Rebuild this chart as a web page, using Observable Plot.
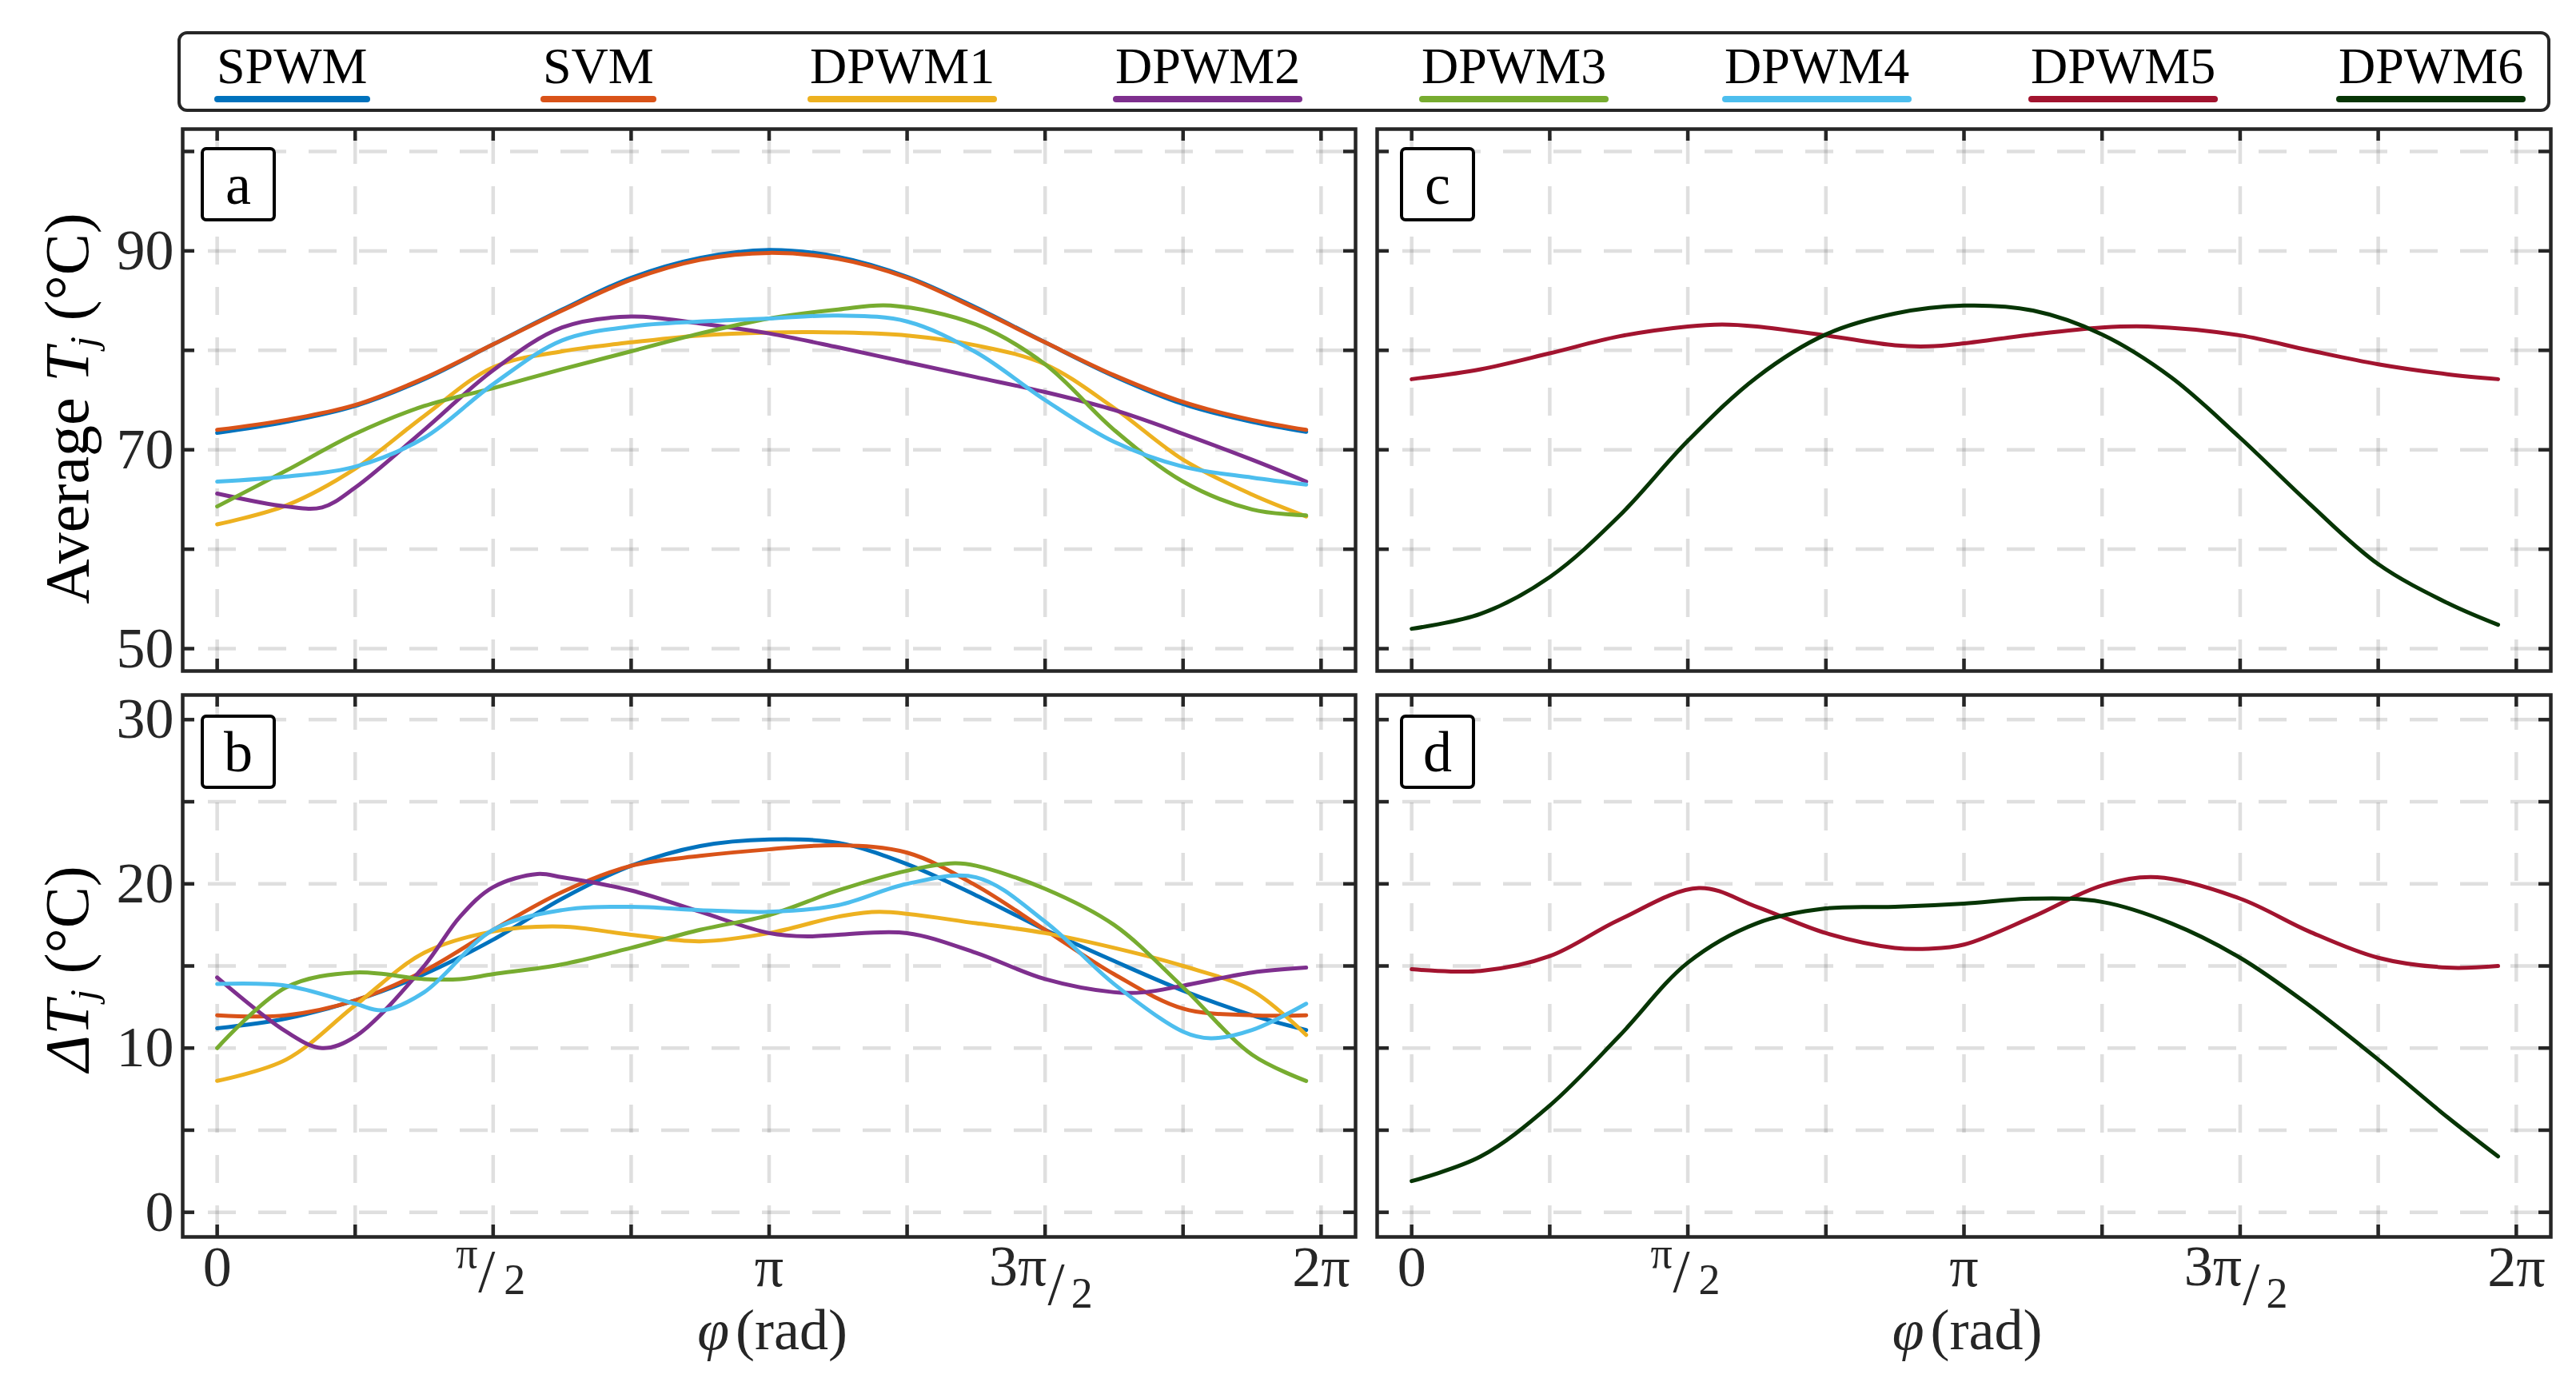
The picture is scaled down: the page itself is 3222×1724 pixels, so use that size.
<!DOCTYPE html>
<html><head><meta charset="utf-8">
<script src="https://cdn.jsdelivr.net/npm/d3@7"></script>
<script src="https://cdn.jsdelivr.net/npm/@observablehq/plot@0.6"></script>
<style>
html,body{margin:0;padding:0;background:#fff;}
#root{position:relative;width:3222px;height:1724px;overflow:hidden;font-family:"Liberation Serif",serif;color:#000;}
.pl{position:absolute;}
.pl svg{overflow:visible;}
.ytitle{position:absolute;white-space:nowrap;font-family:"Liberation Serif",serif;font-size:78px;line-height:1;transform:translate(-50%,-50%) rotate(-90deg);color:#000;}
.ytitle sub{font-size:0.62em;vertical-align:-0.22em;line-height:0;}
.plabel{position:absolute;box-sizing:border-box;border:4.5px solid #000;border-radius:7px;background:#fff;font-size:72px;line-height:1;display:flex;align-items:center;justify-content:center;}
#legend{position:absolute;left:222px;top:39px;width:2968px;height:101px;box-sizing:border-box;border:4.5px solid #262626;border-radius:12px;}
.litem{position:absolute;top:47px;font-size:64px;line-height:1;white-space:nowrap;}
.litem .ln{position:absolute;left:-3px;right:-3px;top:69px;height:8px;border-radius:4px;}
</style></head><body><div id="root"></div>
<script>
const PI = Math.PI;

// ---- series names and colours ----
const names  = ["SPWM","SVM","DPWM1","DPWM2","DPWM3","DPWM4","DPWM5","DPWM6"];
const colors = ["#0072BD","#D95319","#EDB120","#7E2F8E","#77AC30","#4DBEEE","#A2142F","#073505"];

// ---- ticks ----
const xTicks = [0, PI/4, PI/2, 3*PI/4, PI, 5*PI/4, 3*PI/2, 7*PI/4, 2*PI];
const yTicksTop = [50, 60, 70, 80, 90, 100];
const yLabelsTop = [50, 70, 90];
const yTicksBot = [0, 5, 10, 15, 20, 25, 30];
const yLabelsBot = [0, 10, 20, 30];

// ---- data: [phi / pi, value] ----
// panel a: average Tj
const A_SPWM  = [[0,71.7],[0.125,72.8],[0.25,74.4],[0.375,77.1],[0.5,80.6],[0.625,84.1],[0.75,87.3],[0.875,89.3],[1.0,90.1],[1.125,89.4],[1.25,87.4],[1.375,84.3],[1.5,80.8],[1.625,77.4],[1.75,74.6],[1.875,72.8],[1.973,71.8]];
const A_SVM   = [[0,72.0],[0.125,73.0],[0.25,74.5],[0.375,77.2],[0.5,80.6],[0.625,84.0],[0.75,87.1],[0.875,89.1],[1.0,89.8],[1.125,89.2],[1.25,87.3],[1.375,84.2],[1.5,80.8],[1.625,77.5],[1.75,74.8],[1.875,73.0],[1.973,72.0]];
const A_DPWM1 = [[0,62.5],[0.125,64.4],[0.25,68.1],[0.375,73.4],[0.5,78.3],[0.625,79.9],[0.75,80.8],[0.875,81.5],[1.0,81.8],[1.125,81.8],[1.25,81.5],[1.375,80.5],[1.5,78.6],[1.625,74.2],[1.75,69.0],[1.875,65.5],[1.973,63.3]];
const A_DPWM2 = [[0,65.6],[0.125,64.3],[0.19,64.2],[0.25,66.2],[0.375,72.0],[0.5,78.0],[0.625,82.3],[0.75,83.4],[0.875,82.7],[1.0,81.7],[1.125,80.3],[1.25,78.8],[1.375,77.3],[1.5,75.8],[1.625,74.0],[1.75,71.6],[1.875,69.0],[1.973,66.8]];
const A_DPWM3 = [[0,64.3],[0.125,67.9],[0.25,71.6],[0.375,74.4],[0.5,76.2],[0.625,78.1],[0.75,79.9],[0.875,81.7],[1.0,83.2],[1.125,84.1],[1.22,84.5],[1.375,82.6],[1.5,78.6],[1.625,72.0],[1.75,66.8],[1.875,64.0],[1.973,63.4]];
const A_DPWM4 = [[0,66.8],[0.125,67.3],[0.25,68.3],[0.375,71.2],[0.5,76.6],[0.625,81.0],[0.75,82.4],[0.875,82.9],[1.0,83.2],[1.125,83.5],[1.25,82.9],[1.375,79.8],[1.5,75.0],[1.625,70.8],[1.75,68.3],[1.875,67.2],[1.973,66.5]];
// panel c
const C_DPWM5 = [[0,77.1],[0.125,78.1],[0.25,79.7],[0.375,81.4],[0.5,82.4],[0.562,82.6],[0.625,82.4],[0.75,81.5],[0.875,80.5],[0.936,80.4],[1.0,80.7],[1.125,81.6],[1.25,82.3],[1.333,82.4],[1.5,81.5],[1.625,80.0],[1.75,78.6],[1.875,77.6],[1.967,77.1]];
const C_DPWM6 = [[0,52.0],[0.125,53.5],[0.25,57.2],[0.375,63.3],[0.5,70.9],[0.625,77.3],[0.75,81.6],[0.875,83.7],[1.0,84.5],[1.125,84.0],[1.25,81.6],[1.375,77.3],[1.5,71.2],[1.625,64.6],[1.75,58.5],[1.875,54.6],[1.967,52.4]];
// panel b: delta Tj
const B_SPWM  = [[0,11.2],[0.125,11.8],[0.25,12.9],[0.375,14.5],[0.5,16.6],[0.625,19.1],[0.75,21.1],[0.875,22.3],[1.0,22.7],[1.125,22.5],[1.25,21.2],[1.375,19.3],[1.5,17.2],[1.625,15.3],[1.75,13.5],[1.875,12.0],[1.973,11.1]];
const B_SVM   = [[0,12.0],[0.125,12.0],[0.25,12.9],[0.375,14.7],[0.5,17.2],[0.625,19.5],[0.75,21.1],[0.875,21.7],[1.0,22.1],[1.125,22.35],[1.25,21.9],[1.375,19.9],[1.5,17.2],[1.625,14.5],[1.75,12.4],[1.875,12.0],[1.973,12.0]];
const B_DPWM1 = [[0,8.0],[0.125,9.3],[0.25,12.6],[0.375,15.8],[0.5,17.1],[0.625,17.4],[0.75,16.9],[0.875,16.5],[1.0,17.0],[1.125,18.0],[1.2,18.3],[1.375,17.6],[1.5,17.0],[1.625,16.1],[1.75,15.0],[1.875,13.5],[1.973,10.8]];
const B_DPWM2 = [[0,14.3],[0.125,11.0],[0.19,10.0],[0.25,10.7],[0.375,15.0],[0.44,18.0],[0.5,19.8],[0.58,20.6],[0.625,20.4],[0.75,19.6],[0.875,18.3],[1.0,17.0],[1.07,16.8],[1.125,16.9],[1.25,17.0],[1.375,15.8],[1.5,14.2],[1.625,13.4],[1.68,13.4],[1.75,13.8],[1.875,14.6],[1.973,14.9]];
const B_DPWM3 = [[0,10.0],[0.125,13.7],[0.25,14.6],[0.375,14.2],[0.44,14.2],[0.5,14.5],[0.625,15.1],[0.75,16.1],[0.875,17.2],[1.0,18.1],[1.125,19.6],[1.25,20.8],[1.336,21.25],[1.375,21.1],[1.5,19.7],[1.625,17.5],[1.75,13.7],[1.875,9.6],[1.973,8.0]];
const B_DPWM4 = [[0,13.9],[0.125,13.8],[0.25,12.7],[0.3,12.3],[0.375,13.4],[0.5,17.2],[0.625,18.4],[0.75,18.6],[0.875,18.4],[1.0,18.3],[1.125,18.7],[1.25,20.0],[1.375,20.4],[1.5,17.7],[1.625,13.9],[1.75,11.0],[1.8,10.6],[1.875,11.1],[1.973,12.7]];
// panel d
const D_DPWM5 = [[0,14.8],[0.125,14.7],[0.25,15.6],[0.375,17.8],[0.52,19.75],[0.625,18.6],[0.75,17.0],[0.875,16.1],[0.936,16.05],[1.0,16.3],[1.125,18.0],[1.25,19.9],[1.35,20.4],[1.5,19.1],[1.625,17.1],[1.75,15.5],[1.875,14.9],[1.967,15.0]];
const D_DPWM6 = [[0,1.9],[0.125,3.4],[0.25,6.5],[0.375,10.7],[0.5,15.2],[0.625,17.6],[0.75,18.5],[0.875,18.6],[1.0,18.8],[1.125,19.1],[1.25,18.9],[1.375,17.6],[1.5,15.5],[1.625,12.6],[1.75,9.3],[1.875,5.8],[1.967,3.4]];

// ---- x tick labels ----
const xLabelPlain = [{v: 0, t: "0"}, {v: PI, t: "π"}, {v: 2*PI, t: "2π"}];
const xLabelHalf = PI/2, xLabelThreeHalf = 3*PI/2;

const root = document.getElementById("root");
const AX = "#262626";

function panel(o) {
  const frameW = o.W - o.mL - o.mR, frameH = o.H - o.mT - o.mB;
  const marks = [
    Plot.gridX(xTicks, {stroke: AX, strokeOpacity: 0.15, strokeWidth: 4.5, strokeDasharray: "35,28", strokeDashoffset: 54}),
    Plot.gridY(o.yTicks, {stroke: AX, strokeOpacity: 0.15, strokeWidth: 4.5, strokeDasharray: "35,28", strokeDashoffset: 31})
  ];
  o.series.forEach(([data, ci]) => {
    marks.push(Plot.line(data, {x: d => d[0]*PI, y: d => d[1], stroke: colors[ci], strokeWidth: 5, curve: "catmull-rom"}));
  });
  // inward ticks on all sides
  marks.push(Plot.ruleX(xTicks, {x: d => d, insetTop: frameH - 15, stroke: AX, strokeWidth: 4.5}));
  marks.push(Plot.ruleX(xTicks, {x: d => d, insetBottom: frameH - 15, stroke: AX, strokeWidth: 4.5}));
  marks.push(Plot.ruleY(o.yTicks, {y: d => d, insetRight: frameW - 15, stroke: AX, strokeWidth: 4.5}));
  marks.push(Plot.ruleY(o.yTicks, {y: d => d, insetLeft: frameW - 15, stroke: AX, strokeWidth: 4.5}));
  marks.push(Plot.frame({stroke: AX, strokeWidth: 4.5}));
  if (o.yLabels) {
    marks.push(Plot.axisY(o.yLabels, {anchor: "left", tickSize: 0, tickPadding: 11, label: null, fontSize: 72, fill: AX, tickFormat: d => String(d)}));
  }
  if (o.xLabels) {
    const base = {frameAnchor: "bottom", lineAnchor: "bottom", fill: AX, fontFamily: "Liberation Serif"};
    marks.push(Plot.text(xLabelPlain, {...base, x: "v", text: "t", dy: 61, fontSize: 72}));
    // nicefrac-style pi/2
    marks.push(Plot.text([xLabelHalf], {...base, x: d => d, text: () => "π", dx: -33, dy: 38, fontSize: 54}));
    marks.push(Plot.text([xLabelHalf], {...base, x: d => d, text: () => "/", dx: -8, dy: 68, fontSize: 76}));
    marks.push(Plot.text([xLabelHalf], {...base, x: d => d, text: () => "2", dx: 27, dy: 71, fontSize: 54}));
    // 3pi/2
    marks.push(Plot.text([xLabelThreeHalf], {...base, x: d => d, text: () => "3π", dx: -34, dy: 60, fontSize: 72}));
    marks.push(Plot.text([xLabelThreeHalf], {...base, x: d => d, text: () => "/", dx: 14, dy: 84, fontSize: 76}));
    marks.push(Plot.text([xLabelThreeHalf], {...base, x: d => d, text: () => "2", dx: 46, dy: 88, fontSize: 54}));
    // axis title
    marks.push(Plot.text(["φ"], {...base, text: d => d, textAnchor: "end", dx: -50, dy: 140, fontSize: 72, fontStyle: "italic"}));
    marks.push(Plot.text(["(rad)"], {...base, text: d => d, textAnchor: "start", dx: -42, dy: 140, fontSize: 72}));
  }
  const svg = Plot.plot({
    width: o.W, height: o.H,
    marginLeft: o.mL, marginRight: o.mR, marginTop: o.mT, marginBottom: o.mB,
    x: {domain: [-PI/16, 2*PI + PI/16], axis: null},
    y: {domain: o.yDomain, axis: null},
    style: {fontFamily: "Liberation Serif", fontSize: "72px", background: "transparent", maxWidth: "none", overflow: "visible", color: AX},
    marks
  });
  const wrap = document.createElement("div");
  wrap.className = "pl";
  wrap.style.left = o.left + "px";
  wrap.style.top = o.top + "px";
  wrap.appendChild(svg);
  root.appendChild(wrap);
}

const topDomain = [47.75, 102.25];
const botDomain = [-1.5, 31.5];

panel({left: 0, top: 0, W: 1710, H: 850, mL: 228, mR: 15, mT: 161, mB: 11,
  yDomain: topDomain, yTicks: yTicksTop, yLabels: yLabelsTop,
  series: [[A_SPWM,0],[A_SVM,1],[A_DPWM1,2],[A_DPWM2,3],[A_DPWM3,4],[A_DPWM4,5]]});
panel({left: 1710, top: 0, W: 1512, H: 850, mL: 12, mR: 32, mT: 161, mB: 11,
  yDomain: topDomain, yTicks: yTicksTop,
  series: [[C_DPWM5,6],[C_DPWM6,7]]});
panel({left: 0, top: 850, W: 1710, H: 874, mL: 228, mR: 15, mT: 19, mB: 177,
  yDomain: botDomain, yTicks: yTicksBot, yLabels: yLabelsBot, xLabels: true,
  series: [[B_SPWM,0],[B_SVM,1],[B_DPWM1,2],[B_DPWM2,3],[B_DPWM3,4],[B_DPWM4,5]]});
panel({left: 1710, top: 850, W: 1512, H: 874, mL: 12, mR: 32, mT: 19, mB: 177,
  yDomain: botDomain, yTicks: yTicksBot, xLabels: true,
  series: [[D_DPWM5,6],[D_DPWM6,7]]});

// y titles
function addHTML(html) { const t = document.createElement("div"); t.innerHTML = html; const el = t.firstElementChild; root.appendChild(el); return el; }
addHTML(`<div class="ytitle" style="left:84px;top:511px">Average <i>T</i><sub><i>j</i></sub> (°C)</div>`);
addHTML(`<div class="ytitle" style="left:84px;top:1212px"><i>Δ</i><i>T</i><sub><i>j</i></sub> (°C)</div>`);

// panel letters
const panelLetters = ["a", "b", "c", "d"];
const letterBoxes = [[251,184],[251,894],[1751,184],[1751,894]];
panelLetters.forEach((L, i) => {
  const el = addHTML(`<div class="plabel">${L}</div>`);
  el.style.left = letterBoxes[i][0] + "px"; el.style.top = letterBoxes[i][1] + "px";
  el.style.width = "94px"; el.style.height = "93px";
});

// legend
const legend = addHTML(`<div id="legend"></div>`);
const legendLeft = [267, 675, 1009, 1391, 1774, 2153, 2536, 2921];
names.forEach((n, i) => {
  const it = document.createElement("div");
  it.className = "litem";
  it.style.left = (legendLeft[i] - 222) + "px";
  it.style.top = (47 - 39) + "px";
  it.innerHTML = `<span>${n}</span><div class="ln" style="background:${colors[i]}"></div>`;
  legend.appendChild(it);
});
</script></body></html>
